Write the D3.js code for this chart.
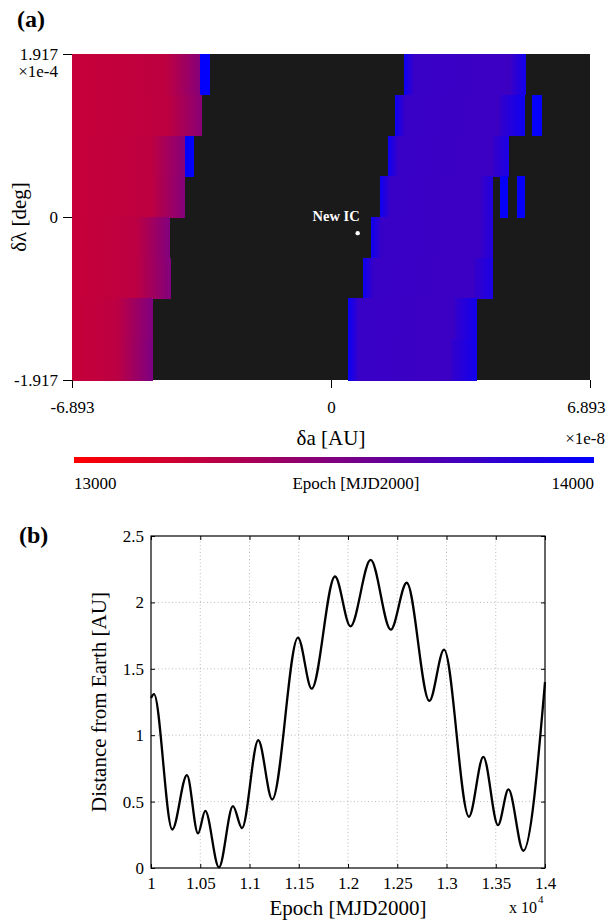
<!DOCTYPE html>
<html><head><meta charset="utf-8">
<script src="https://cdn.jsdelivr.net/npm/d3@7"></script>
<style>
body{margin:0;background:#fff}
svg text{font-family:"Liberation Serif","Times New Roman",Times,serif !important}
</style>
</head><body>
<svg id="c" width="608" height="923"></svg>
<script>
// ---------- Panel (a) data ----------
const daDomain = [-6.893, 6.893];          // x 1e-8 AU
const dlDomain = [-1.917, 1.917];          // x 1e-4 deg
const daTicks = [-6.893, 0, 6.893];
const dlTicks = [1.917, 0, -1.917];
const lambdaEdges = [1.917, 1.438, 0.958, 0.479, 0, -0.479, -0.958, -1.438, -1.917];
const epochRange = [13000, 14000];
// segments per row (top to bottom): [da0, da1, epochStart, epochEnd]; uncovered = no encounter (black)
const row0 = [[-6.893,-4.40,13225,13255],[-4.40,-3.487,13255,13470],[-3.487,-3.221,13990,13990],
              [1.943,2.20,13950,13790],[2.20,4.80,13775,13765],[4.80,5.19,13790,13930]];
const row1 = [[-6.893,-4.35,13225,13255],[-4.35,-3.44,13255,13460],
              [1.704,1.96,13950,13790],[1.96,4.50,13775,13765],[4.50,5.164,13800,13950],[5.350,5.616,13985,13985]];
const row2 = [[-6.893,-4.80,13225,13255],[-4.80,-3.886,13255,13470],[-3.886,-3.647,13990,13990],
              [1.517,1.78,13950,13790],[1.78,4.30,13775,13765],[4.30,4.738,13790,13900]];
const row3 = [[-6.893,-4.80,13225,13255],[-4.80,-3.886,13255,13480],
              [1.304,1.57,13950,13790],[1.57,4.00,13775,13765],[4.00,4.312,13790,13880],
              [4.498,4.711,13975,13975],[4.951,5.164,13975,13975]];
const row4 = [[-6.893,-5.20,13225,13260],[-5.20,-4.285,13260,13490],
              [1.065,1.33,13950,13790],[1.33,4.00,13775,13765],[4.00,4.312,13790,13870]];
const row5 = [[-6.893,-5.20,13225,13260],[-5.20,-4.259,13260,13490],
              [0.852,1.12,13950,13790],[1.12,3.80,13775,13765],[3.80,4.312,13790,13900]];
const row6 = [[-6.893,-5.70,13225,13260],[-5.70,-4.738,13260,13500],
              [0.452,0.72,13960,13800],[0.72,3.30,13775,13765],[3.30,3.886,13800,13930]];
const row7 = [[-6.893,-5.70,13225,13260],[-5.70,-4.738,13260,13510],
              [0.452,0.72,13960,13800],[0.72,3.20,13775,13765],[3.20,3.886,13800,13930]];
const rowSegments = [row0,row1,row2,row3,row4,row5,row6,row7];
const newIC = {da: 0.71, dl: -0.19, label: "New IC"};

// ---------- Panel (b) data (local extrema) ----------
const epochs = [10000,10030,10216,10365,10477,10551,10690,10832,10924,
  11089,11231,11492,11631,11868,12025,12230,12434,12596,
  12826,12975,13228,13374,13523,13629,13780,14000];
const distances = [1.28,1.31,0.29,0.70,0.26,0.43,0.005,0.466,0.30,
  0.962,0.516,1.735,1.35,2.195,1.82,2.32,1.795,2.148,
  1.258,1.644,0.386,0.837,0.323,0.592,0.13,1.40];
const epochTicks = [10000,10500,11000,11500,12000,12500,13000,13500,14000];
const distTicks = [0,0.5,1,1.5,2,2.5];

// ---------- drawing ----------
const svg = d3.select("#c");
const defs = svg.append("defs");
const color = d3.scaleLinear().domain(epochRange).range(["#ff0000","#0000ff"]).interpolate(d3.interpolateRgb);

// Panel (a)
const xA = d3.scaleLinear().domain(daDomain).range([72, 590]);
const yA = d3.scaleLinear().domain(dlDomain).range([380, 54]);

svg.append("text").attr("x",17).attr("y",27).attr("font-size",24).attr("font-weight","bold").text("(a)");

const gA = svg.append("g");
gA.append("rect").attr("x",xA(daDomain[0])).attr("y",yA(dlDomain[1]))
  .attr("width",xA(daDomain[1])-xA(daDomain[0])).attr("height",yA(dlDomain[0])-yA(dlDomain[1]))
  .attr("fill","#1a1a1a");

let gid = 0;
rowSegments.forEach((segs, r) => {
  const y0 = yA(lambdaEdges[r]), y1 = yA(lambdaEdges[r+1]);
  segs.forEach(s => {
    let fill;
    if (s[2] === s[3]) fill = color(s[2]);
    else {
      const id = "g" + (gid++);
      const lg = defs.append("linearGradient").attr("id", id).attr("x1",0).attr("x2",1).attr("y1",0).attr("y2",0);
      lg.append("stop").attr("offset","0%").attr("stop-color", color(s[2]));
      lg.append("stop").attr("offset","100%").attr("stop-color", color(s[3]));
      fill = `url(#${id})`;
    }
    gA.append("rect").attr("x", xA(s[0])).attr("y", y0)
      .attr("width", xA(s[1]) - xA(s[0])).attr("height", y1 - y0 + 0.5)
      .attr("fill", fill).attr("shape-rendering","crispEdges");
  });
});

gA.append("circle").attr("cx", xA(newIC.da)).attr("cy", yA(newIC.dl)).attr("r", 2.2).attr("fill","#fff");
gA.append("text").attr("x", xA(newIC.da)+2).attr("y", yA(newIC.dl)-12).attr("text-anchor","end")
  .attr("font-size",14.5).attr("font-weight","bold").attr("fill","#fff").text(newIC.label);

// axes (a)
const fmtA = d => d===0 ? "0" : d3.format(".3f")(d).replace("−","-");
const axA = svg.append("g").attr("transform",`translate(0,${yA(dlDomain[0])})`)
  .call(d3.axisBottom(xA).tickValues(daTicks).tickSize(8).tickFormat(fmtA));
axA.select(".domain").remove();
axA.selectAll("line").attr("stroke","#000");
axA.selectAll("text").attr("font-size",17).attr("fill","#000").attr("y",33).attr("dy",0);
axA.selectAll(".tick").filter(d => d === daTicks[2]).select("text").attr("text-anchor","end").attr("x", 15);

const ayA = svg.append("g").attr("transform",`translate(${xA(daDomain[0])},0)`)
  .call(d3.axisLeft(yA).tickValues(dlTicks).tickSize(9).tickPadding(5).tickFormat(fmtA));
ayA.select(".domain").remove();
ayA.selectAll("line").attr("stroke","#000");
ayA.selectAll("text").attr("font-size",17).attr("fill","#000");
svg.append("text").attr("x",58).attr("y",77).attr("text-anchor","end").attr("font-size",17).text("×1e-4");

svg.append("text").attr("transform",`translate(26,${(yA(dlDomain[0])+yA(dlDomain[1]))/2}) rotate(-90)`)
  .attr("text-anchor","middle").attr("font-size",21).text("δλ [deg]");
svg.append("text").attr("x", xA(0)).attr("y", 445).attr("text-anchor","middle").attr("font-size",21).text("δa [AU]");
svg.append("text").attr("x", 605).attr("y", 444).attr("text-anchor","end").attr("font-size",17).text("×1e-8");

// colorbar
const cb = defs.append("linearGradient").attr("id","cbar").attr("x1",0).attr("x2",1).attr("y1",0).attr("y2",0);
d3.range(0,1.0001,0.1).forEach(t => cb.append("stop").attr("offset", t).attr("stop-color", color(epochRange[0]+t*(epochRange[1]-epochRange[0]))));
const xCb = d3.scaleLinear().domain(epochRange).range([74, 594]);
svg.append("rect").attr("x", xCb(epochRange[0])).attr("y", 457).attr("width", xCb(epochRange[1])-xCb(epochRange[0]))
  .attr("height", 6).attr("fill","url(#cbar)");
svg.append("text").attr("x", xCb(epochRange[0])).attr("y", 489).attr("font-size",17).text(String(epochRange[0]));
svg.append("text").attr("x", xCb(epochRange[1])).attr("y", 489).attr("text-anchor","end").attr("font-size",17).text(String(epochRange[1]));
svg.append("text").attr("x", 356).attr("y", 489).attr("text-anchor","middle").attr("font-size",17).text("Epoch [MJD2000]");

// Panel (b)
const xB = d3.scaleLinear().domain([10000,14000]).range([151, 545]);
const yB = d3.scaleLinear().domain([0,2.5]).range([868, 536]);

svg.append("text").attr("x",19).attr("y",543).attr("font-size",24).attr("font-weight","bold").text("(b)");

const gB = svg.append("g");
gB.selectAll("line.gx").data(epochTicks.slice(1,-1)).join("line")
  .attr("x1", d=>xB(d)).attr("x2", d=>xB(d)).attr("y1", yB(0)).attr("y2", yB(2.5))
  .attr("stroke","#aaa").attr("stroke-width",0.8).attr("stroke-dasharray","1,2.5");
gB.selectAll("line.gy").data(distTicks.slice(1,-1)).join("line")
  .attr("x1", xB(10000)).attr("x2", xB(14000)).attr("y1", d=>yB(d)).attr("y2", d=>yB(d))
  .attr("stroke","#aaa").attr("stroke-width",0.8).attr("stroke-dasharray","1,2.5");

const line = d3.line().x((d,i)=>xB(epochs[i])).y(d=>yB(d)).curve(d3.curveMonotoneX);
gB.append("path").attr("d", line(distances)).attr("fill","none").attr("stroke","#000").attr("stroke-width",2.3)
  .attr("stroke-linejoin","round");

gB.append("rect").attr("x", xB(10000)).attr("y", yB(2.5)).attr("width", xB(14000)-xB(10000))
  .attr("height", yB(0)-yB(2.5)).attr("fill","none").attr("stroke","#000").attr("stroke-width",1.2);

const axB = svg.append("g").attr("transform",`translate(0,${yB(0)})`)
  .call(d3.axisBottom(xB).tickValues(epochTicks).tickSize(-4).tickPadding(9).tickFormat(d => String(d/1e4)));
axB.select(".domain").remove();
axB.selectAll("line").attr("stroke","#000");
axB.selectAll("text").attr("font-size",17).attr("fill","#000");
const axBt = svg.append("g").attr("transform",`translate(0,${yB(2.5)})`)
  .call(d3.axisTop(xB).tickValues(epochTicks).tickSize(-4).tickFormat(""));
axBt.select(".domain").remove(); axBt.selectAll("line").attr("stroke","#000");

const ayB = svg.append("g").attr("transform",`translate(${xB(10000)},0)`)
  .call(d3.axisLeft(yB).tickValues(distTicks).tickSize(-4).tickPadding(7).tickFormat(d => String(d)));
ayB.select(".domain").remove();
ayB.selectAll("line").attr("stroke","#000");
ayB.selectAll("text").attr("font-size",17).attr("fill","#000");
const ayBr = svg.append("g").attr("transform",`translate(${xB(14000)},0)`)
  .call(d3.axisRight(yB).tickValues(distTicks).tickSize(-4).tickFormat(""));
ayBr.select(".domain").remove(); ayBr.selectAll("line").attr("stroke","#000");

svg.append("text").attr("x", 348).attr("y", 915).attr("text-anchor","middle").attr("font-size",21).text("Epoch [MJD2000]");
const sc = svg.append("text").attr("x", 509).attr("y", 913).attr("font-size",16);
sc.append("tspan").text("x 10");
sc.append("tspan").attr("font-size",11).attr("dy",-10).attr("dx",1).text("4");
svg.append("text").attr("transform",`translate(106,${(yB(0)+yB(2.5))/2}) rotate(-90)`)
  .attr("text-anchor","middle").attr("font-size",21).text("Distance from Earth [AU]");
</script>
</body></html>
